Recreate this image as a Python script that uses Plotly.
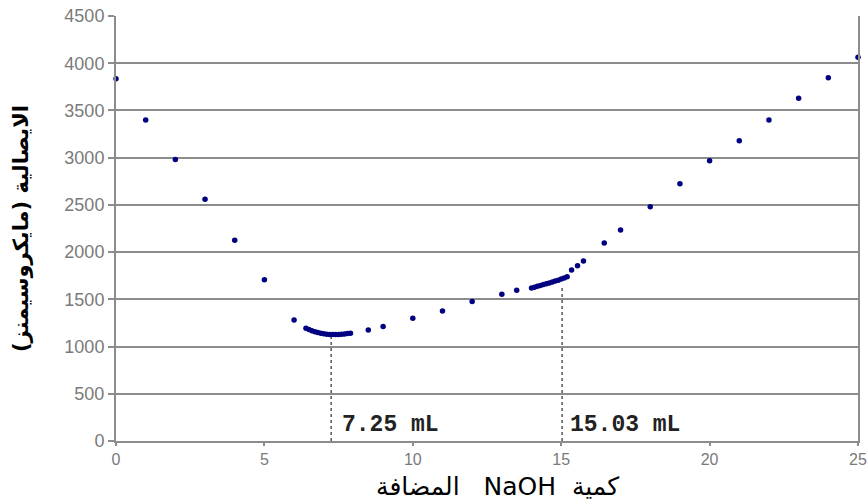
import plotly.graph_objects as go

# NaOH volume added (mL)
volume = [0, 1, 2, 3, 4, 5, 6,
          6.4, 6.5, 6.6, 6.7, 6.8, 6.9, 7.0, 7.1, 7.2, 7.3, 7.4, 7.5, 7.6, 7.7, 7.8, 7.9,
          8.5, 9, 10, 11, 12, 13, 13.5,
          14.0, 14.1, 14.2, 14.3, 14.4, 14.5, 14.6, 14.7, 14.8, 14.9, 15.0, 15.1, 15.2,
          15.35, 15.55, 15.75, 16.45, 17, 18, 19, 20, 21, 22, 23, 24, 25]
# Conductivity (microsiemens)
conductivity = [3835, 3400, 2980, 2560, 2125, 1707, 1282,
                1195, 1180, 1168, 1157, 1148, 1140, 1135, 1131, 1128, 1127, 1127, 1128, 1130, 1133, 1137, 1142,
                1176, 1212, 1300, 1377, 1476, 1555, 1596,
                1620, 1629, 1638, 1647, 1656, 1665, 1674, 1683, 1693, 1703, 1714, 1726, 1740,
                1810, 1855, 1907, 2097, 2235, 2480, 2723, 2968, 3178, 3400, 3630, 3847, 4062]

# Equivalence points
eq_volume = [7.25, 15.03]
eq_top = [1100, 1650]
eq_labels = ["7.25 mL", "15.03 mL"]

x_ticks = [0, 5, 10, 15, 20, 25]
y_ticks = [0, 500, 1000, 1500, 2000, 2500, 3000, 3500, 4000, 4500]

x_title = "\u202Bكمية\u00a0\u00a0NaOH\u00a0\u00a0\u00a0المضافة\u202C"
y_title = "\u202Bالايصالية (مايكروسيمنز)\u202C"

fig = go.Figure()
fig.add_trace(go.Scatter(
    x=volume, y=conductivity, mode="markers",
    marker=dict(color="#000080", size=5.5),
    cliponaxis=False, showlegend=False, hoverinfo="skip",
))

for v, top, lab, xs in zip(eq_volume, eq_top, eq_labels, [9, 6]):
    fig.add_shape(type="line", x0=v, x1=v, y0=0, y1=top, xref="x", yref="y",
                  line=dict(color="#555555", width=1.5, dash="dot"))
    fig.add_annotation(x=v, y=0, xref="x", yref="y", text=lab, showarrow=False,
                       xanchor="left", yanchor="bottom", xshift=xs, yshift=1,
                       font=dict(family="Liberation Mono, Courier New, monospace",
                                 size=23, color="#222222", weight="bold"))

# x-axis title (placed as annotation for exact positioning)
fig.add_annotation(x=0.5, y=-0.108, xref="paper", yref="paper", text=x_title,
                   showarrow=False, xanchor="center", yanchor="middle", xshift=10,
                   font=dict(size=25, color="#000000",
                             family="DejaVu Sans, Liberation Sans, sans-serif"))

grid = "#8c8c8c"
fig.update_layout(
    width=868, height=503,
    margin=dict(l=116, r=10, t=16, b=62),
    paper_bgcolor="white", plot_bgcolor="white",
    font=dict(family="Liberation Sans, Arial, DejaVu Sans, sans-serif"),
    xaxis=dict(
        range=[0, 25], tickvals=x_ticks,
        showgrid=False, zeroline=False, automargin=False,
        showline=True, linecolor=grid, linewidth=2,
        ticks="outside", ticklen=3, tickcolor=grid, tickwidth=2,
        tickfont=dict(size=16, color="#7a7a7a"),
    ),
    yaxis=dict(
        range=[0, 4500], tickvals=y_ticks,
        showgrid=True, gridcolor=grid, gridwidth=2,
        zeroline=False, automargin=False,
        showline=True, linecolor=grid, linewidth=2, mirror=True,
        ticks="outside", ticklen=6, tickcolor=grid, tickwidth=2,
        tickfont=dict(size=18, color="#7a7a7a"),
        title=dict(text=y_title, standoff=30,
                   font=dict(size=21, color="#000000", weight="bold",
                             family="DejaVu Sans, sans-serif")),
    ),
)

fig.write_html("out.html", config={"displayModeBar": False},
               post_script="document.body.style.margin='0';document.body.style.overflow='hidden';")
